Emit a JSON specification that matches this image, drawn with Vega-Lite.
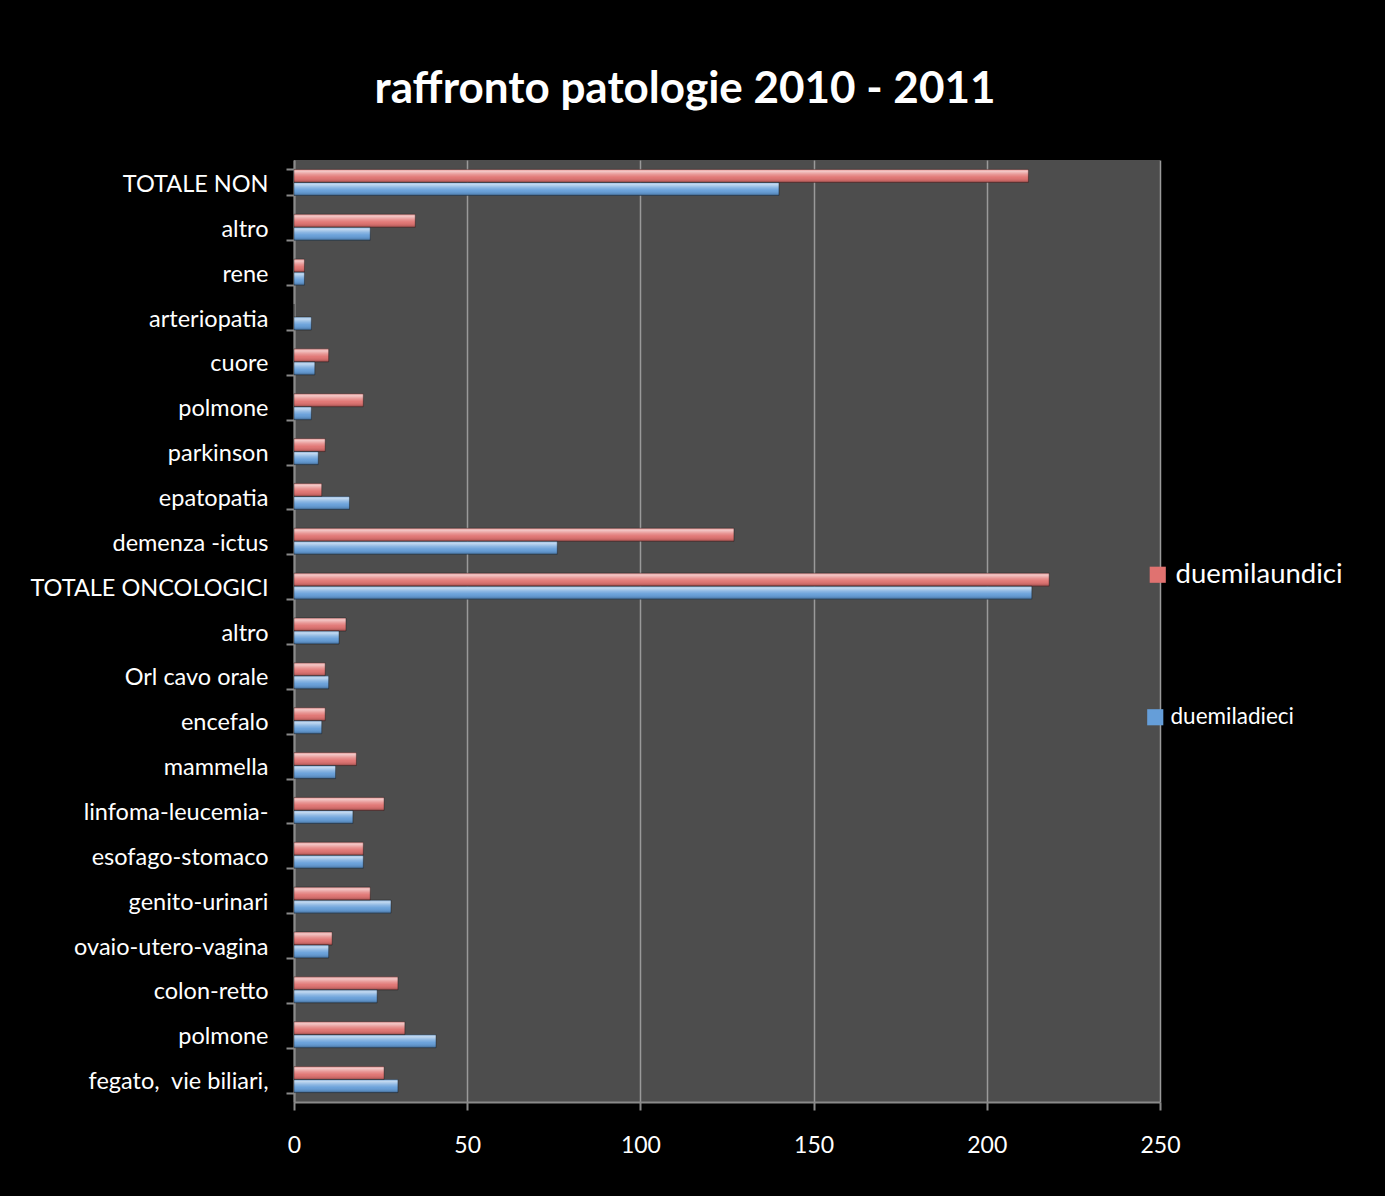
{
  "$schema": "https://vega.github.io/schema/vega-lite/v6.json",
  "autosize": {"type": "none"},
  "width": 866,
  "height": 942,
  "padding": {"left": 294, "top": 160, "right": 225, "bottom": 94},
  "background": "#000000",
  "title": {
    "text": "raffronto patologie 2010 - 2011",
    "font": "Lato",
    "fontSize": 44,
    "fontWeight": "bold",
    "color": "#ffffff",
    "anchor": "middle",
    "dx": -42,
    "offset": 36
  },
  "data": {
    "values": [
      {"categoria": "TOTALE NON", "duemilaundici": 212, "duemiladieci": 140},
      {"categoria": "altro", "duemilaundici": 35, "duemiladieci": 22},
      {"categoria": "rene", "duemilaundici": 3, "duemiladieci": 3},
      {"categoria": "arteriopatia", "duemilaundici": 0, "duemiladieci": 5},
      {"categoria": "cuore", "duemilaundici": 10, "duemiladieci": 6},
      {"categoria": "polmone", "duemilaundici": 20, "duemiladieci": 5},
      {"categoria": "parkinson", "duemilaundici": 9, "duemiladieci": 7},
      {"categoria": "epatopatia", "duemilaundici": 8, "duemiladieci": 16},
      {"categoria": "demenza -ictus\u00a0", "duemilaundici": 127, "duemiladieci": 76},
      {"categoria": "TOTALE ONCOLOGICI", "duemilaundici": 218, "duemiladieci": 213},
      {"categoria": "altro\u200b", "duemilaundici": 15, "duemiladieci": 13},
      {"categoria": "Orl cavo orale", "duemilaundici": 9, "duemiladieci": 10},
      {"categoria": "encefalo\u00a0", "duemilaundici": 9, "duemiladieci": 8},
      {"categoria": "mammella", "duemilaundici": 18, "duemiladieci": 12},
      {"categoria": "linfoma-leucemia-", "duemilaundici": 26, "duemiladieci": 17},
      {"categoria": "esofago-stomaco", "duemilaundici": 20, "duemiladieci": 20},
      {"categoria": "genito-urinari", "duemilaundici": 22, "duemiladieci": 28},
      {"categoria": "ovaio-utero-vagina", "duemilaundici": 11, "duemiladieci": 10},
      {"categoria": "colon-retto", "duemilaundici": 30, "duemiladieci": 24},
      {"categoria": "polmone\u200b", "duemilaundici": 32, "duemiladieci": 41},
      {"categoria": "fegato, \u00a0vie biliari,", "duemilaundici": 26, "duemiladieci": 30}
    ]
  },
  "transform": [
    {"fold": ["duemilaundici", "duemiladieci"], "as": ["anno", "valore"]}
  ],
  "encoding": {
    "y": {
      "field": "categoria",
      "type": "nominal",
      "sort": null,
      "title": null,
      "scale": {"paddingInner": 0.42, "paddingOuter": 0.21},
      "axis": {
        "tickBand": "extent",
        "labelFont": "Lato",
        "labelFontSize": 23.5,
        "labelColor": "#ffffff",
        "labelPadding": 18,
        "labelOffset": 2,
        "labelLimit": 300,
        "tickSize": 8,
        "tickColor": "#8a8a8a",
        "tickWidth": 2,
        "domainColor": "#8a8a8a",
        "domainWidth": 2,
        "grid": false
      }
    },
    "x": {
      "field": "valore",
      "type": "quantitative",
      "title": null,
      "scale": {"domain": [0, 250], "nice": false},
      "axis": {
        "values": [0, 50, 100, 150, 200, 250],
        "labelFont": "Lato",
        "labelFontSize": 23,
        "labelColor": "#ffffff",
        "labelPadding": 24,
        "labelFlush": false,
        "tickSize": 8,
        "tickColor": "#8a8a8a",
        "tickWidth": 2,
        "domainColor": "#8a8a8a",
        "domainWidth": 2,
        "grid": true,
        "gridColor": "#9a9a9a",
        "gridWidth": 1.5
      }
    },
    "yOffset": {
      "field": "anno",
      "type": "nominal",
      "scale": {"domain": ["duemilaundici", "duemiladieci"], "paddingInner": 0, "paddingOuter": 0}
    }
  },
  "layer": [
    {
      "transform": [{"filter": "datum.anno == 'duemilaundici'"}],
      "mark": {"type": "bar", "cornerRadius": 0},
      "encoding": {
        "color": {
          "field": "anno",
          "type": "nominal",
          "scale": {"domain": ["duemilaundici"], "range": ["#e07270"]},
          "legend": {
            "title": null,
            "orient": "none",
            "legendX": 850,
            "legendY": 401,
            "padding": 0,
            "symbolType": "square",
            "symbolSize": 260,
            "symbolStrokeWidth": 0,
            "labelFont": "Lato",
            "labelFontSize": 27.5,
            "labelColor": "#ffffff",
            "labelOffset": 4,
            "labelLimit": 300
          }
        }
      }
    },
    {
      "transform": [{"filter": "datum.anno == 'duemiladieci'"}],
      "mark": {"type": "bar", "cornerRadius": 0},
      "encoding": {
        "color": {
          "field": "anno",
          "type": "nominal",
          "scale": {"domain": ["duemiladieci"], "range": ["#659ed9"]},
          "legend": {
            "title": null,
            "orient": "none",
            "legendX": 850,
            "legendY": 546,
            "padding": 0,
            "symbolType": "square",
            "symbolSize": 260,
            "symbolStrokeWidth": 0,
            "labelFont": "Lato",
            "labelFontSize": 22.5,
            "labelColor": "#ffffff",
            "labelOffset": 4,
            "labelLimit": 300
          }
        }
      }
    },
    {
      "mark": {
        "type": "bar",
        "stroke": "rgba(0,0,0,0.35)",
        "strokeWidth": 1,
        "fill": {
          "gradient": "linear",
          "x1": 0, "y1": 0, "x2": 0, "y2": 1,
          "stops": [
            {"offset": 0, "color": "rgba(255,255,255,0.3)"},
            {"offset": 0.15, "color": "rgba(255,255,255,0.6)"},
            {"offset": 0.4, "color": "rgba(255,255,255,0.25)"},
            {"offset": 0.6, "color": "rgba(255,255,255,0.05)"},
            {"offset": 0.85, "color": "rgba(0,0,0,0.1)"},
            {"offset": 1, "color": "rgba(0,0,0,0.35)"}
          ]
        }
      }
    }
  ],
  "resolve": {"scale": {"color": "independent"}, "legend": {"color": "independent"}},
  "config": {
    "view": {"fill": "#4d4d4d", "stroke": null}
  }
}
